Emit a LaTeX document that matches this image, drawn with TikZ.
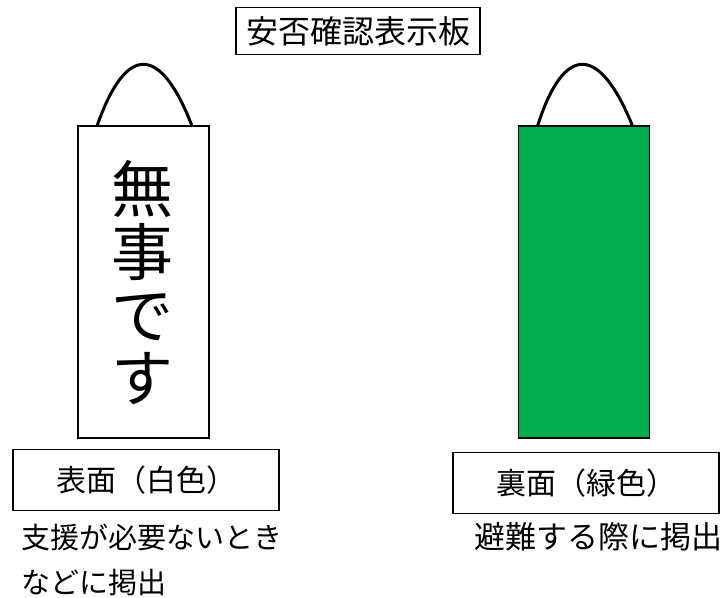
\documentclass[tikz,border=0pt]{standalone}
\usepackage{fontspec}
\setmainfont{Noto Sans CJK JP}
\definecolor{signgreen}{HTML}{00AD4E}
\tikzset{
  framebox/.style={draw=black, line width=1.5pt, inner sep=0pt},
  signboard/.style={draw=black, line width=1.5pt, minimum width=131pt, minimum height=312pt, inner sep=0pt},
  hanger/.style={draw=black, line width=3pt},
  labelbox/.style={draw=black, line width=1.5pt, minimum width=266pt, minimum height=61pt, inner sep=0pt, font=\fontsize{30}{34}\selectfont},
  note/.style={anchor=west, inner sep=0pt, font=\fontsize{29}{34}\selectfont}
}
\begin{document}
\begin{tikzpicture}[x=1pt,y=-1pt]
\useasboundingbox (0,0) rectangle (728,597);
% title
\node[framebox, minimum width=244pt, minimum height=47pt, font=\fontsize{32}{36}\selectfont] (title) at (358,31) {安否確認表示板};
% front sign (white)
\node[signboard, fill=white] (front) at (143.5,282) {};
\node[inner sep=0pt, align=center, font=\fontsize{62}{63}\selectfont] (fronttext) at (142,283) {無\\事\\で\\す};
\coordinate (fl) at ([xshift=20pt]front.north west);
\coordinate (fr) at ([xshift=-18pt]front.north east);
\draw[hanger] (fl) .. controls (126,44) and (160,44) .. (fr);
% back sign (green)
\node[signboard, fill=signgreen] (back) at (584,282) {};
\coordinate (bl) at ([xshift=20pt]back.north west);
\coordinate (br) at ([xshift=-18pt]back.north east);
\draw[hanger] (bl) .. controls (564,44) and (599,44) .. (br);
% label boxes
\node[labelbox] (frontlabel) at (146,480) {表面（白色）};
\node[labelbox] (backlabel) at (586,483) {裏面（緑色）};
% notes
\node[note] (frontnote1) at (21,537) {支援が必要ないとき};
\node[note] (frontnote2) at (21,582) {などに掲出};
\node[note, font=\fontsize{31}{34}\selectfont] (backnote) at (474,537) {避難する際に掲出};
\end{tikzpicture}
\end{document}
